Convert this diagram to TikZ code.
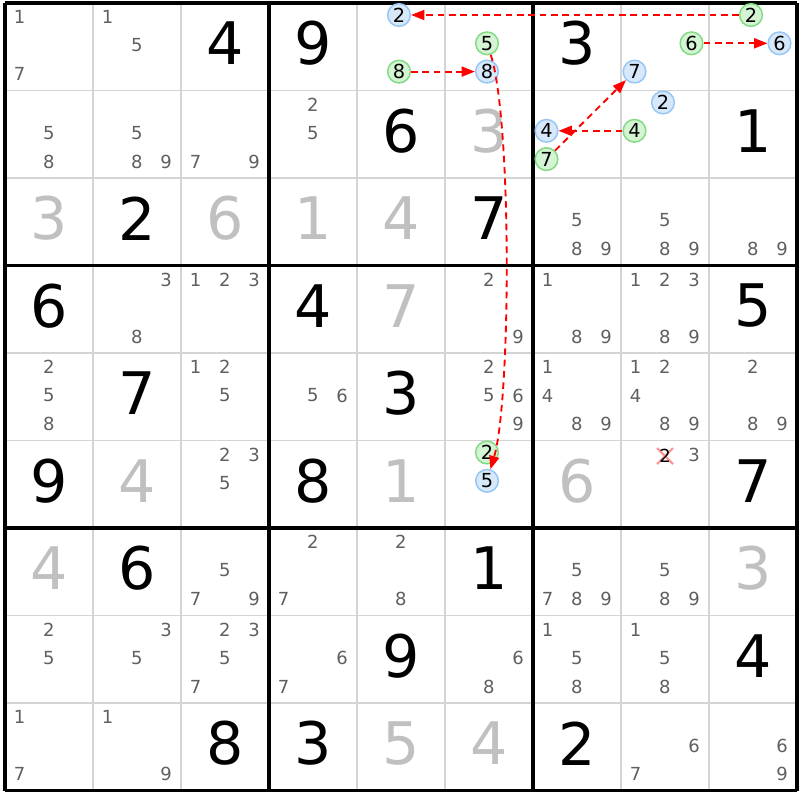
\documentclass[tikz,border=0pt]{standalone}
\usepackage{fontspec}
\setmainfont{DejaVu Sans}
\usetikzlibrary{arrows.meta}
\definecolor{candc}{RGB}{96,96,96}
\definecolor{solc}{RGB}{192,192,192}
\definecolor{gridc}{RGB}{212,212,212}
\definecolor{gfill}{RGB}{212,244,212}
\definecolor{gbord}{RGB}{130,218,130}
\definecolor{bfill}{RGB}{214,232,250}
\definecolor{bbord}{RGB}{150,198,244}
\definecolor{xpink}{RGB}{255,150,150}
\definecolor{linkred}{RGB}{255,0,0}
\tikzset{
  cand/.style={text=candc,font=\fontsize{13.5}{14}\selectfont,inner sep=0pt},
  giv/.style={text=black,font=\fontsize{44}{44}\selectfont,inner sep=0pt},
  sol/.style={giv,text=solc},
  gcirc/.style={circle,draw=gbord,fill=gfill,line width=1.1pt,minimum size=17pt,inner sep=0pt,text=black,font=\fontsize{14.5}{15}\selectfont},
  bcirc/.style={gcirc,draw=bbord,fill=bfill},
  link/.style={draw=linkred,line width=1.4pt,dash pattern=on 5pt off 3.5pt,-{Triangle[length=10pt,width=7.5pt]}},
  gridthin/.style={draw=gridc,line width=1.1pt},
  gridthick/.style={draw=black,line width=2.3pt},
}
% candidate position helpers
\newcommand\candset[3]{%
  \foreach \k in {#3}{%
    \pgfmathtruncatemacro\ci{mod(\k-1,3)}%
    \pgfmathtruncatemacro\ri{div(\k-1,3)}%
    \node[cand] (c#1#2-\k) at ({5+88*#2+14.7+29.2*\ci},{3+87.5*#1+14+28.5*\ri}) {\k};
  }}
\newcommand\givenat[3]{\node[giv] (g#1#2) at ({49+88*#2},{43.5+87.5*#1}) {#3};}
\newcommand\solvedat[3]{\node[sol] (s#1#2) at ({49+88*#2},{43.5+87.5*#1}) {#3};}
% highlighted candidate: style, row, col, digit, name
\newcommand\hlcand[5]{%
  \pgfmathtruncatemacro\ci{mod(#4-1,3)}%
  \pgfmathtruncatemacro\ri{div(#4-1,3)}%
  \node[#1] (#5) at ({5+88*#3+13.5+28.5*\ci},{3+87.5*#2+12+28.3*\ri}) {#4};}
\begin{document}
\begin{tikzpicture}[x=0.75pt,y=-0.75pt]
\useasboundingbox (0,0) rectangle (800,800);
\fill[white] (0,0) rectangle (800,800);
% grid
\foreach \i in {0,...,9}{
  \draw[gridthin] ({5+88*\i},3) -- ({5+88*\i},790.5);
  \draw[gridthin] (5,{3+87.5*\i}) -- (797,{3+87.5*\i});
}
\foreach \i in {0,3,6,9}{
  \draw[gridthick] ({5+88*\i},3) -- ({5+88*\i},790.5);
  \draw[gridthick] (5,{3+87.5*\i}) -- (797,{3+87.5*\i});
}
% givens
\givenat{0}{2}{4}\givenat{0}{3}{9}\givenat{0}{6}{3}
\givenat{1}{4}{6}\givenat{1}{8}{1}
\givenat{2}{1}{2}\givenat{2}{5}{7}
\givenat{3}{0}{6}\givenat{3}{3}{4}\givenat{3}{8}{5}
\givenat{4}{1}{7}\givenat{4}{4}{3}
\givenat{5}{0}{9}\givenat{5}{3}{8}\givenat{5}{8}{7}
\givenat{6}{1}{6}\givenat{6}{5}{1}
\givenat{7}{4}{9}\givenat{7}{8}{4}
\givenat{8}{2}{8}\givenat{8}{3}{3}\givenat{8}{6}{2}
% solved
\solvedat{1}{5}{3}
\solvedat{2}{0}{3}\solvedat{2}{2}{6}\solvedat{2}{3}{1}\solvedat{2}{4}{4}
\solvedat{3}{4}{7}
\solvedat{5}{1}{4}\solvedat{5}{4}{1}\solvedat{5}{6}{6}
\solvedat{6}{0}{4}\solvedat{6}{8}{3}
\solvedat{8}{4}{5}\solvedat{8}{5}{4}
% candidates
\candset{0}{0}{1,7}\candset{0}{1}{1,5}
\candset{1}{0}{5,8}\candset{1}{1}{5,8,9}\candset{1}{2}{7,9}\candset{1}{3}{2,5}
\candset{2}{6}{5,8,9}\candset{2}{7}{5,8,9}\candset{2}{8}{8,9}
\candset{3}{1}{3,8}\candset{3}{2}{1,2,3}\candset{3}{5}{2,9}\candset{3}{6}{1,8,9}\candset{3}{7}{1,2,3,8,9}
\candset{4}{0}{2,5,8}\candset{4}{2}{1,2,5}\candset{4}{3}{5,6}\candset{4}{5}{2,5,6,9}\candset{4}{6}{1,4,8,9}\candset{4}{7}{1,2,4,8,9}\candset{4}{8}{2,8,9}
\candset{5}{2}{2,3,5}\candset{5}{7}{3}
\candset{6}{2}{5,7,9}\candset{6}{3}{2,7}\candset{6}{4}{2,8}\candset{6}{6}{5,7,8,9}\candset{6}{7}{5,8,9}
\candset{7}{0}{2,5}\candset{7}{1}{3,5}\candset{7}{2}{2,3,5,7}\candset{7}{3}{6,7}\candset{7}{5}{6,8}\candset{7}{6}{1,5,8}\candset{7}{7}{1,5,8}
\candset{8}{0}{1,7}\candset{8}{1}{1,9}\candset{8}{7}{6,7}\candset{8}{8}{6,9}
% eliminated candidate
\draw[xpink,line width=1.6pt] (657,448) -- (673,464) (657,464) -- (673,448);
\node[cand,text=black] (x57) at (665,456) {2};
% highlighted candidates
\hlcand{gcirc}{0}{4}{8}{g04}
\hlcand{bcirc}{0}{4}{2}{b04}
\hlcand{gcirc}{0}{5}{5}{g05}
\hlcand{bcirc}{0}{5}{8}{b05}
\hlcand{gcirc}{0}{7}{6}{g07}
\hlcand{bcirc}{0}{7}{7}{b07}
\hlcand{gcirc}{0}{8}{2}{g08}
\hlcand{bcirc}{0}{8}{6}{b08}
\hlcand{gcirc}{1}{6}{7}{g16}
\hlcand{bcirc}{1}{6}{4}{b16}
\hlcand{gcirc}{1}{7}{4}{g17}
\hlcand{bcirc}{1}{7}{2}{b17}
\hlcand{gcirc}{5}{5}{2}{g55}
\hlcand{bcirc}{5}{5}{5}{b55}
% links
\draw[link] (g08) -- (b04);
\draw[link] (g04) -- (b05);
\draw[link] (g07) -- (b08);
\draw[link] (g17) -- (b16);
\draw[link] (g16) -- (b07);
\draw[link] (g05) .. controls (512,120) and (511,400) .. (b55);
\end{tikzpicture}
\end{document}
